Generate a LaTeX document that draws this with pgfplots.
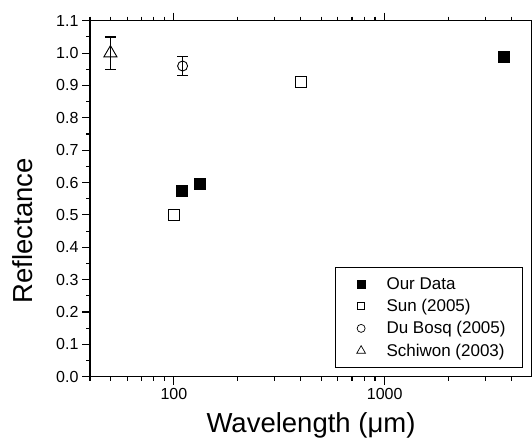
\documentclass[border=0pt]{standalone}
\usepackage{fontspec}
\setmainfont{Liberation Sans}
\usepackage{pgfplots}
\pgfplotsset{compat=1.18}
\begin{document}
\begin{tikzpicture}
\begin{axis}[
  at={(0pt,0pt)}, anchor=south west,
  scale only axis, width=442pt, height=356pt,
  xmode=log, xmin=40, xmax=5000,
  ymin=0, ymax=1.1,
  xtick={100,1000}, xticklabels={100,1000},
  minor xtick={40,50,60,70,80,90,200,300,400,500,600,700,800,900,2000,3000,4000},
  ytick={0,0.1,0.2,0.3,0.4,0.5,0.6,0.7,0.8,0.9,1.0,1.1},
  yticklabels={0.0,0.1,0.2,0.3,0.4,0.5,0.6,0.7,0.8,0.9,1.0,1.1},
  minor ytick={0.05,0.15,0.25,0.35,0.45,0.55,0.65,0.75,0.85,0.95,1.05},
  tick align=outside,
  major tick length=8pt, minor tick length=4pt,
  axis line style={line width=1.2pt},
  tick style={black, line width=1.1pt},
  tick label style={font=\fontsize{16}{19}\selectfont},
  /pgf/number format/assume math mode=true,
  xlabel={Wavelength (μm)}, ylabel={Reflectance},
  label style={font=\fontsize{27.5}{32}\selectfont},
  xlabel style={at={(axis description cs:0.5,-0.1581)}, anchor=base},
  ylabel style={at={(axis description cs:-0.1305,0.41)}, anchor=base},
  legend style={at={(axis description cs:0.9796,0.0244)}, anchor=south east,
    draw=black, line width=0.8pt, font=\fontsize{17}{20}\selectfont,
    inner xsep=15pt, inner ysep=8pt, row sep=4.5pt},
  legend cell align=left,
  legend image code/.code={\path (0pt,0pt) (33pt,0pt); \draw[#1] plot coordinates {(10pt,0pt)};},
  clip=false,
]
\addplot[only marks, mark=square*, mark size=5.5pt, black,
  legend image post style={mark size=4pt}]
  coordinates {(109,0.575) (133,0.597) (3680,0.99)};
\addlegendentry{Our Data}
\addplot[only marks, mark=square, mark size=5.5pt, black, line width=0.9pt,
  mark options={fill=white},
  legend image post style={mark size=3.5pt, line width=0.7pt}]
  coordinates {(100,0.50) (400,0.91)};
\addlegendentry{Sun (2005)}
\addplot[only marks, mark=o, mark size=5pt, black, line width=0.9pt,
  mark options={fill=white},
  legend image post style={mark size=4pt, line width=0.7pt},
  error bars/.cd, y dir=both, y explicit, error mark=-,
  error bar style={line width=1.3pt, black},
  error mark options={rotate=90, mark size=5.5pt, line width=1.3pt, black}]
  coordinates {(110,0.96) +- (0,0.03)};
\addlegendentry{Du Bosq (2005)}
\addplot[only marks, mark=triangle, mark size=7.5pt, black, line width=0.9pt,
  mark options={fill=white},
  legend image post style={mark size=5pt, line width=0.7pt},
  error bars/.cd, y dir=both, y explicit, error mark=-,
  error bar style={line width=1.3pt, black},
  error mark options={rotate=90, mark size=5.5pt, line width=1.3pt, black}]
  coordinates {(50,1.00) +- (0,0.05)};
\addlegendentry{Schiwon (2003)}
\end{axis}
\pgfresetboundingbox
\useasboundingbox (-90pt,-64.3pt) rectangle (442pt,376.7pt);
\end{tikzpicture}
\end{document}
